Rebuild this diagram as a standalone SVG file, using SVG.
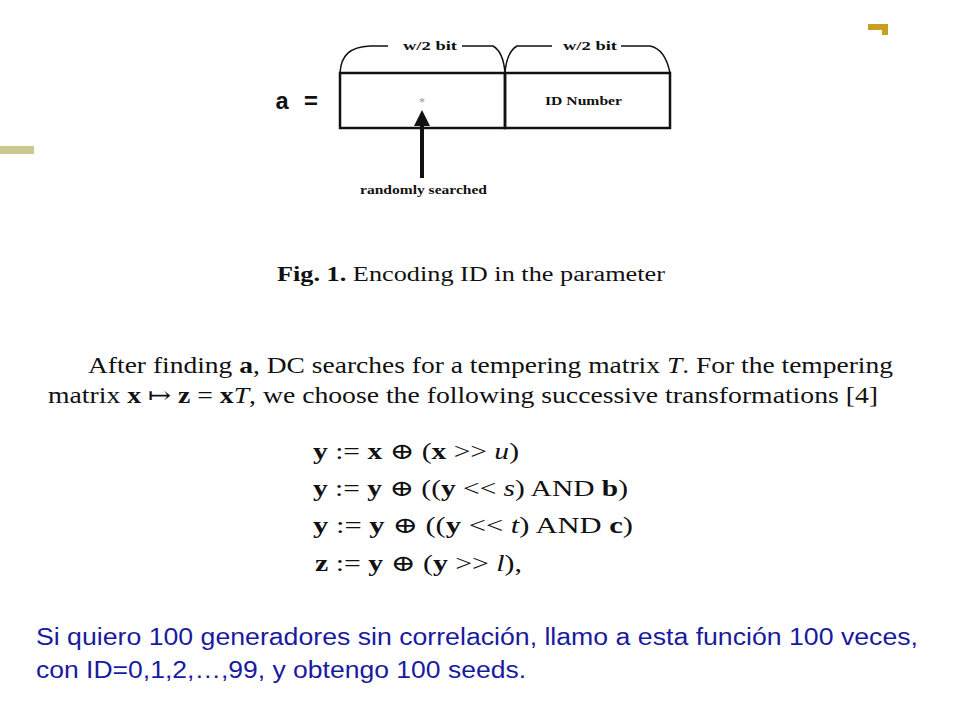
<svg xmlns="http://www.w3.org/2000/svg" width="960" height="720" viewBox="0 0 960 720">
<style>
.ser{font-family:"Liberation Serif","DejaVu Serif",serif;fill:#111}
.b{font-weight:bold}
.eq{font-family:"Liberation Serif","DejaVu Serif",serif;font-size:23px;fill:#111}
.ln{fill:none;stroke:#111;stroke-width:1.5}
</style>
<defs><marker id="ah" markerWidth="4" markerHeight="4" refX="2" refY="2" orient="auto"><path d="M0,0L4,2L0,4Z" fill="#111"/></marker></defs>
<rect width="960" height="720" fill="#fff"/>
<g id="deco">
<path d="M868,24H888V35H882V30H868Z" fill="#c8a020"/>
<rect x="0" y="146" width="34" height="8" fill="#c8c890"/>
</g>
<g id="label-a"><text x="275" y="109" font-family="Liberation Mono,monospace" font-weight="bold" font-size="24" fill="#111">a =</text></g>
<g id="box-left"><rect x="340" y="73" width="165" height="55" fill="none" stroke="#111" stroke-width="2.5"/><text x="422" y="106" class="ser" font-size="12" text-anchor="middle" style="fill:#999">*</text></g>
<g id="box-right"><rect x="505" y="73" width="165" height="55" fill="none" stroke="#111" stroke-width="2.5"/><text x="545" y="105" class="ser b" font-size="13" textLength="77" lengthAdjust="spacingAndGlyphs">ID Number</text></g>
<g id="braces">
<path class="ln" d="M340,73C341,55 350,47 370,46H388M462,46H493C500,50 504,60 505,73C506,60 510,50 517,46H552M621,46H650C660,48 667,58 670,73"/>
<text x="403" y="50" class="ser b" font-size="13" textLength="54" lengthAdjust="spacingAndGlyphs">w/2 bit</text>
<text x="563" y="50" class="ser b" font-size="13" textLength="54" lengthAdjust="spacingAndGlyphs">w/2 bit</text>
</g>
<g id="connectors"><line x1="422" y1="178" x2="422" y2="118" stroke="#111" stroke-width="4" marker-end="url(#ah)"/></g>
<g id="label-rs"><text x="360" y="194" class="ser b" font-size="13" textLength="127" lengthAdjust="spacingAndGlyphs">randomly searched</text></g>
<text x="277" y="281" class="ser" font-size="20" textLength="388" lengthAdjust="spacingAndGlyphs"><tspan font-weight="bold">Fig. 1.</tspan> Encoding ID in the parameter</text>
<text x="88" y="373" class="ser" font-size="23" textLength="805" lengthAdjust="spacingAndGlyphs">After finding <tspan font-weight="bold">a</tspan>, DC searches for a tempering matrix <tspan font-style="italic">T</tspan>. For the tempering</text>
<text x="48" y="403" class="ser" font-size="23" textLength="830" lengthAdjust="spacingAndGlyphs">matrix <tspan font-weight="bold">x</tspan> ↦ <tspan font-weight="bold">z</tspan> = <tspan font-weight="bold">x</tspan><tspan font-style="italic">T</tspan>, we choose the following successive transformations [4]</text>
<text x="313" y="459" class="eq" textLength="206" lengthAdjust="spacingAndGlyphs"><tspan font-weight="bold">y</tspan> := <tspan font-weight="bold">x</tspan> ⊕ (<tspan font-weight="bold">x</tspan> &gt;&gt; <tspan font-style="italic">u</tspan>)</text>
<text x="313" y="496" class="eq" textLength="315" lengthAdjust="spacingAndGlyphs"><tspan font-weight="bold">y</tspan> := <tspan font-weight="bold">y</tspan> ⊕ ((<tspan font-weight="bold">y</tspan> &lt;&lt; <tspan font-style="italic">s</tspan>) AND <tspan font-weight="bold">b</tspan>)</text>
<text x="313" y="533" class="eq" textLength="320" lengthAdjust="spacingAndGlyphs"><tspan font-weight="bold">y</tspan> := <tspan font-weight="bold">y</tspan> ⊕ ((<tspan font-weight="bold">y</tspan> &lt;&lt; <tspan font-style="italic">t</tspan>) AND <tspan font-weight="bold">c</tspan>)</text>
<text x="315" y="571" class="eq" textLength="207" lengthAdjust="spacingAndGlyphs"><tspan font-weight="bold">z</tspan> := <tspan font-weight="bold">y</tspan> ⊕ (<tspan font-weight="bold">y</tspan> &gt;&gt; <tspan font-style="italic">l</tspan>),</text>
<g font-family="Liberation Sans,Arial,sans-serif" font-size="23" fill="#1a1aa0">
<text x="36" y="645" textLength="882" lengthAdjust="spacingAndGlyphs">Si quiero 100 generadores sin correlación, llamo a esta función 100 veces,</text>
<text x="36" y="678" textLength="490" lengthAdjust="spacingAndGlyphs">con ID=0,1,2,…,99, y obtengo 100 seeds.</text>
</g>
</svg>
